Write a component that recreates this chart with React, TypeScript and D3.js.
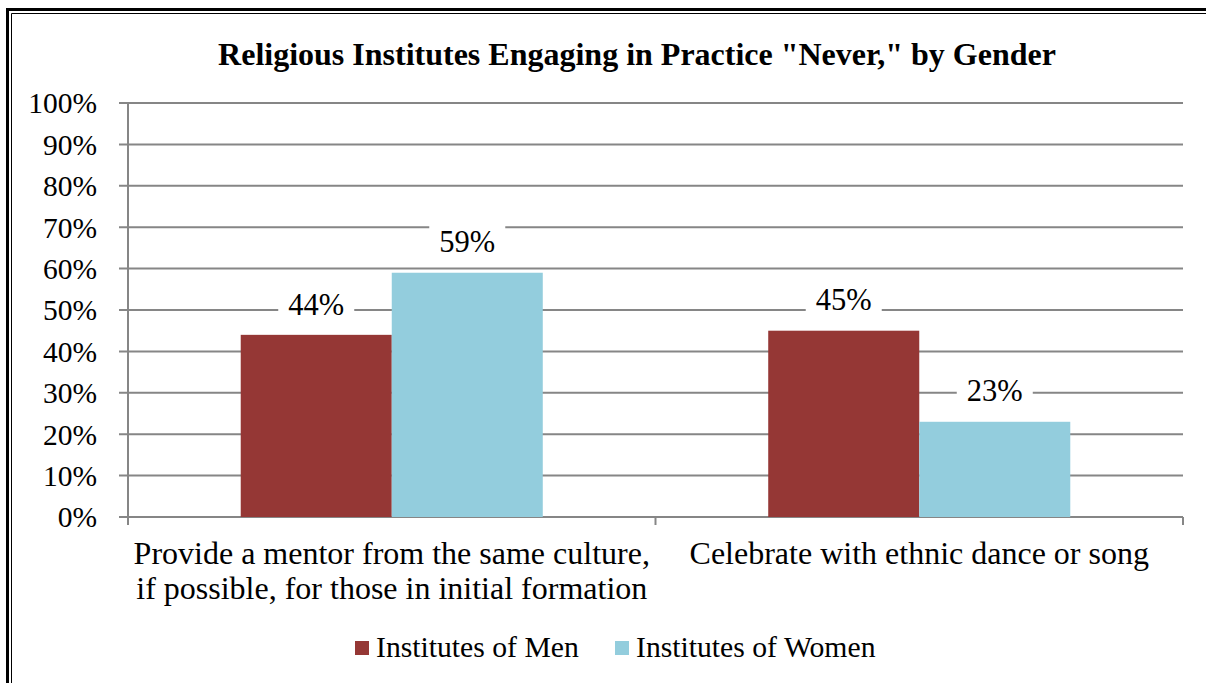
import React from "react";
import * as d3 from "d3";

const categories = [
  ["Provide a mentor from the same culture,", "if possible, for those in initial formation"],
  ["Celebrate with ethnic dance or song"],
];
const seriesNames = ["Institutes of Men", "Institutes of Women"];
const menValues = [44, 45];
const womenValues = [59, 23];
const yTicks = [0, 10, 20, 30, 40, 50, 60, 70, 80, 90, 100];
const colors = ["#953735", "#93CDDD"];

const font = "Liberation Serif";

export default function App() {
  const W = 1206, H = 683;
  const left = 128, right = 1183, top = 103, bottom = 517;
  const y = d3.scaleLinear().domain([0, 100]).range([bottom, top]);
  const x0 = d3.scaleBand().domain(["0", "1"]).range([left, right]).paddingInner(0).paddingOuter(0);
  const x1 = d3.scaleBand().domain(["0", "1"]).range([0, x0.bandwidth()]).paddingInner(0).paddingOuter(0.7464);
  const series = [menValues, womenValues];
  return (
    <div style={{ position: "fixed", left: 0, top: 0, width: W, height: H, overflow: "hidden", background: "#fff" }}>
      <svg width={W} height={H} style={{ display: "block" }}>
        <rect x={0} y={0} width={W} height={H} fill="#fff" />
        <path d={`M7.5,${H + 20} V9.5 H${W + 20}`} fill="none" stroke="#000" strokeWidth={3} />
        <path d={`M11.5,${H + 20} V13.5 H${W + 20}`} fill="none" stroke="#000" strokeWidth={1} />
        <text x={637} y={65} textAnchor="middle" fontWeight="bold" fontSize={32} fontFamily={font}>
          Religious Institutes Engaging in Practice "Never," by Gender
        </text>
        {yTicks.map((t) => (
          <g key={t}>
            <line x1={left - 9} x2={right} y1={y(t)} y2={y(t)} stroke="#868686" strokeWidth={2} />
            <text x={97} y={y(t)} dy="0.35em" textAnchor="end" fontSize={29.5} fontFamily={font}>{t}%</text>
          </g>
        ))}
        <line x1={left} x2={left} y1={top} y2={bottom} stroke="#868686" strokeWidth={2} />
        {[0, 1, 2].map((i) => {
          const xx = left + (i * (right - left)) / 2;
          return <line key={i} x1={xx} x2={xx} y1={bottom} y2={bottom + 8} stroke="#868686" strokeWidth={2} />;
        })}
        {categories.map((lines, ci) => {
          const cx = (x0(String(ci)) as number) + x0.bandwidth() / 2;
          return (
            <g key={ci}>
              {series.map((vals, si) => {
                const bx = (x0(String(ci)) as number) + (x1(String(si)) as number);
                const bw = x1.bandwidth();
                const v = vals[ci];
                const label = `${v}%`;
                const lw = 76;
                return (
                  <g key={si}>
                    <rect x={bx} y={y(v)} width={bw} height={bottom - y(v)} fill={colors[si]} />
                    <rect x={bx + bw / 2 - lw / 2} y={y(v) - 48} width={lw} height={36} fill="#fff" />
                    <text x={bx + bw / 2} y={y(v) - 31} dy="0.35em" textAnchor="middle" fontSize={30.5} fontFamily={font}>{label}</text>
                  </g>
                );
              })}
              {lines.map((ln, li) => (
                <text key={li} x={cx} y={564 + li * 35} textAnchor="middle" fontSize={32} fontFamily={font}>{ln}</text>
              ))}
            </g>
          );
        })}
        {seriesNames.map((name, i) => {
          const lx = [355, 615][i];
          return (
            <g key={name}>
              <rect x={lx} y={641} width={14} height={14} fill={colors[i]} />
              <text x={lx + 21} y={657} fontSize={29.7} fontFamily={font}>{name}</text>
            </g>
          );
        })}
      </svg>
    </div>
  );
}
